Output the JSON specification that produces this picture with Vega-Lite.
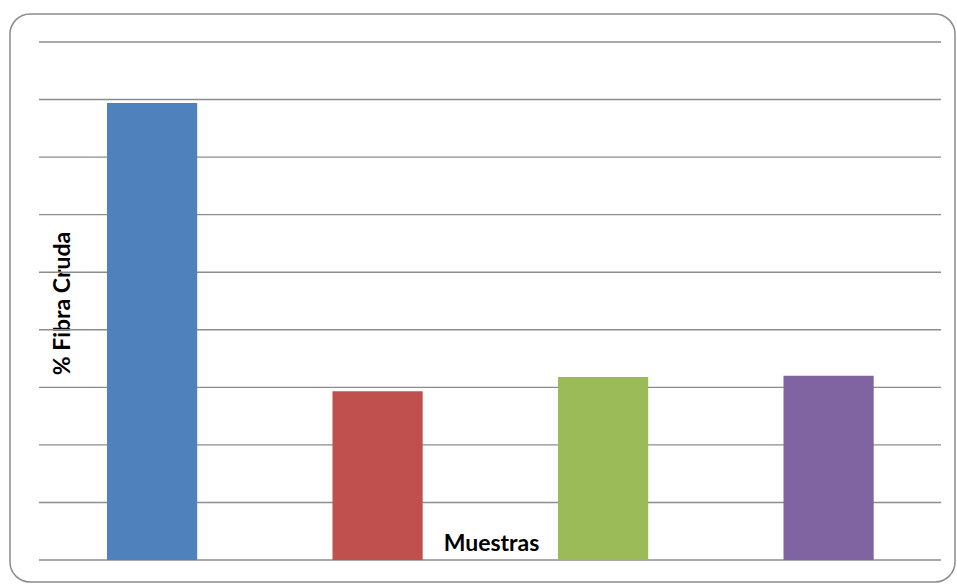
{
  "$schema": "https://vega.github.io/schema/vega-lite/v6.json",
  "width": 957,
  "height": 584,
  "autosize": {"type": "fit", "contains": "padding"},
  "padding": {"left": 10, "top": 14, "right": 2, "bottom": 2},
  "background": "white",
  "config": {
    "view": {"stroke": "#8a8a8a", "strokeWidth": 1.5, "cornerRadius": 20},
    "font": "Lato"
  },
  "layer": [
    {
      "data": {"values": [{"g": 0}, {"g": 1}, {"g": 2}, {"g": 3}, {"g": 4}, {"g": 5}, {"g": 6}, {"g": 7}, {"g": 8}, {"g": 9}]},
      "mark": {"type": "rule", "color": "#8c8c8c", "strokeWidth": 1.4},
      "encoding": {
        "y": {"field": "g", "type": "quantitative", "scale": {"domain": [-0.3822, 9.4865], "nice": false, "zero": false}, "axis": {"title": "% Fibra Cruda", "labels": false, "ticks": false, "domain": false, "grid": false, "titleFontSize": 23, "titleFontWeight": "bold", "titleColor": "#000000", "titleAngle": 270, "titleX": 52, "titleY": 289, "titleAlign": "center", "titleBaseline": "middle"}},
        "x": {"datum": 0, "type": "quantitative", "scale": {"domain": [-0.03215, 1.01552], "nice": false, "zero": false}, "axis": null},
        "x2": {"datum": 1}
      }
    },
    {
      "data": {"values": [
        {"muestra": "M1", "fibra": 7.94},
        {"muestra": "M2", "fibra": 2.93},
        {"muestra": "M3", "fibra": 3.18},
        {"muestra": "M4", "fibra": 3.2}
      ]},
      "mark": {"type": "bar"},
      "encoding": {
        "x": {"field": "muestra", "type": "nominal", "sort": null, "scale": {"paddingInner": 0.6, "paddingOuter": 0.3953, "align": 0.544}, "axis": {"title": "Muestras", "labels": false, "ticks": false, "domain": false, "grid": false, "titleFontSize": 23, "titleFontWeight": "bold", "titleColor": "#000000", "titleX": 481, "titleY": -39, "titleBaseline": "middle", "titleAlign": "center"}},
        "y": {"field": "fibra", "type": "quantitative"},
        "color": {"field": "muestra", "type": "nominal", "scale": {"range": ["#4F81BD", "#C0504D", "#9BBB59", "#8064A2"]}, "legend": null}
      }
    }
  ],
  "resolve": {"scale": {"x": "independent"}, "axis": {"x": "independent"}}
}
